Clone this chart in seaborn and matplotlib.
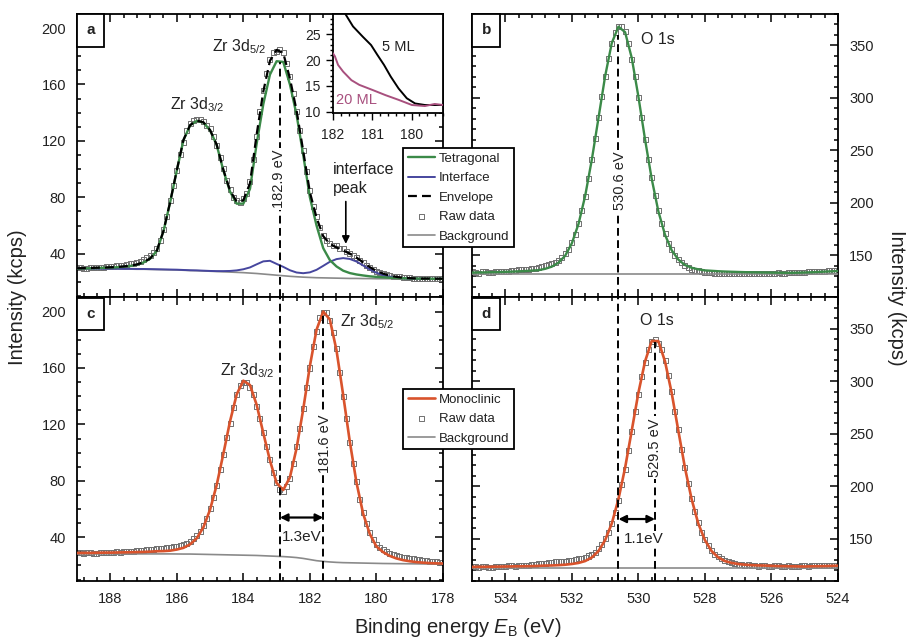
import numpy as np
import pandas as pd
import matplotlib
matplotlib.use("Agg")
import matplotlib.pyplot as plt
from matplotlib.ticker import MultipleLocator
import seaborn as sns

# ---------------- data ----------------
# binding energy grids (eV): raw data every 0.1 eV, fitted curves every 0.2 eV
zr_raw_be = np.round(np.arange(189.0, 177.95, -0.1), 1)
o_raw_be = np.round(np.arange(535.0, 523.95, -0.1), 1)
zr_be = np.round(np.arange(189.0, 177.9, -0.2), 1)
o_be = np.round(np.arange(535.0, 523.9, -0.2), 1)

# (a) tetragonal, Zr 3d
zr_t_raw = [30.2, 30.0, 29.8, 29.6, 30.3, 30.5, 30.6, 30.1, 30.4, 30.7,
            31.0, 31.1, 31.5, 31.4, 31.9, 32.3, 32.8, 33.2, 34.0, 34.8,
            35.6, 37.0, 38.5, 41.0, 44.0, 49.5, 57.0, 66.5, 77.5, 88.5,
            99.0, 110.5, 119.0, 127.5, 132.5, 134.5, 135.5, 135.0, 134.0, 131.0,
            128.5, 123.0, 116.5, 108.5, 100.5, 92.0, 85.5, 80.0, 78.0, 76.5,
            79.0, 82.5, 91.5, 106.5, 123.0, 140.5, 156.0, 167.5, 178.0, 183.0,
            183.5, 184.5, 183.0, 175.0, 165.5, 153.5, 140.5, 127.5, 113.5, 98.0,
            85.0, 73.5, 66.5, 58.5, 53.0, 49.5, 47.5, 46.0, 45.5, 44.0,
            43.5, 41.5, 40.5, 39.0, 37.0, 35.5, 33.5, 32.0, 30.0, 29.0,
            27.5, 26.8, 26.0, 25.3, 24.8, 24.2, 24.0, 23.6, 23.2, 22.9,
            23.0, 22.8, 22.6, 22.4, 22.8, 22.7, 22.4, 22.3, 22.6, 22.6,
            22.5]
zr_t_fit = [29.5, 29.6, 29.7, 29.9, 30.0, 30.2, 30.4, 30.8, 31.3, 32.2,
            33.8, 36.5, 42.0, 56.0, 76.5, 99.0, 120.5, 131.0, 134.2, 133.0,
            127.5, 117.0, 99.0, 84.0, 75.5, 75.5, 86.0, 118.0, 146.0, 167.0,
            176.5, 176.0, 160.0, 138.5, 110.0, 80.0, 60.0, 44.0, 35.5, 31.0,
            28.0, 26.3, 25.3, 24.6, 24.0, 23.6, 23.3, 23.0, 22.8, 22.6,
            22.5, 22.4, 22.3, 22.3, 22.2, 22.2]
zr_t_iface = [29.5, 29.5, 29.5, 29.5, 29.4, 29.4, 29.4, 29.3, 29.3, 29.2,
              29.2, 29.1, 29.0, 28.9, 28.8, 28.7, 28.5, 28.3, 28.2, 28.0,
              27.8, 27.7, 27.7, 27.8, 28.2, 29.0, 30.3, 32.5, 34.6, 35.0,
              32.8, 30.7, 28.3, 26.7, 26.2, 26.8, 28.6, 31.4, 34.3, 36.2,
              36.9, 36.3, 34.5, 31.7, 28.9, 26.5, 24.9, 23.8, 23.0, 22.6,
              22.4, 22.3, 22.2, 22.2, 22.2, 22.2]
zr_t_env = [29.7, 29.8, 29.9, 30.1, 30.2, 30.4, 30.6, 31.0, 31.5, 32.4,
            34.0, 36.7, 42.2, 56.2, 76.7, 99.2, 120.7, 131.2, 134.4, 133.2,
            127.7, 117.3, 99.5, 84.8, 76.9, 77.9, 90.0, 124.5, 155.0, 176.8,
            184.5, 182.3, 164.3, 141.5, 112.8, 83.6, 65.6, 52.5, 47.0, 44.5,
            42.3, 40.1, 37.3, 33.9, 30.5, 27.8, 25.9, 24.5, 23.6, 23.0,
            22.7, 22.5, 22.4, 22.4, 22.3, 22.3]
zr_t_bg = [29.3, 29.3, 29.3, 29.3, 29.2, 29.2, 29.2, 29.1, 29.1, 29.0,
           29.0, 28.9, 28.8, 28.7, 28.6, 28.5, 28.3, 28.1, 28.0, 27.8,
           27.6, 27.4, 27.2, 27.0, 26.8, 26.6, 26.3, 26.0, 25.6, 25.2,
           24.8, 24.4, 24.0, 23.7, 23.4, 23.2, 23.0, 22.9, 22.8, 22.7,
           22.6, 22.5, 22.5, 22.4, 22.4, 22.3, 22.3, 22.3, 22.2, 22.2,
           22.2, 22.2, 22.1, 22.1, 22.1, 22.1]

# (c) monoclinic, Zr 3d
zr_m_raw = [29.3, 29.0, 28.6, 29.1, 29.2, 28.7, 28.8, 29.3, 29.4, 28.9,
            29.0, 29.5, 29.6, 29.3, 29.8, 30.0, 30.0, 30.1, 30.4, 30.5,
            30.8, 31.0, 31.2, 31.6, 31.8, 32.0, 32.3, 32.6, 32.8, 33.2,
            33.6, 34.2, 35.0, 35.8, 37.2, 38.8, 41.0, 44.0, 48.0, 53.5,
            60.5, 68.0, 77.0, 88.0, 98.5, 110.5, 121.0, 132.0, 141.5, 147.5,
            149.5, 150.0, 146.0, 141.5, 133.0, 124.0, 114.5, 104.0, 95.0, 86.0,
            79.0, 74.0, 72.5, 76.0, 82.0, 92.0, 104.0, 117.0, 131.5, 146.5,
            160.0, 175.0, 186.0, 195.5, 199.0, 199.5, 194.0, 185.0, 173.5, 157.0,
            140.0, 124.0, 107.0, 92.0, 79.5, 67.0, 57.5, 49.5, 43.5, 38.5,
            35.0, 32.5, 31.0, 29.6, 28.5, 27.8, 27.0, 26.4, 25.8, 25.4,
            25.0, 24.6, 24.2, 23.9, 23.6, 23.3, 23.0, 22.8, 22.6, 22.4,
            22.3]
zr_m_fit = [28.9, 28.9, 28.9, 29.0, 29.1, 29.1, 29.2, 29.3, 29.4, 29.5,
            29.6, 29.8, 30.1, 30.2, 30.5, 31.3, 32.5, 35.0, 39.3, 47.1,
            59.6, 77.2, 99.2, 122.2, 141.3, 151.0, 147.9, 133.9, 113.9, 94.4,
            78.5, 73.5, 82.5, 103.1, 130.8, 161.4, 187.1, 200.0, 194.4, 172.6,
            141.0, 107.8, 78.9, 56.8, 42.4, 33.5, 29.5, 26.8, 25.0, 23.8,
            23.0, 22.4, 22.0, 21.7, 21.5, 21.4]
zr_m_bg = [28.2, 28.2, 28.2, 28.2, 28.2, 28.2, 28.2, 28.2, 28.2, 28.2,
           28.2, 28.2, 28.2, 28.2, 28.2, 28.15, 28.1, 28.1, 28.0, 27.9,
           27.8, 27.7, 27.6, 27.5, 27.4, 27.3, 27.2, 27.1, 26.9, 26.7,
           26.5, 26.3, 26.0, 25.6, 25.0, 24.2, 23.4, 22.9, 22.5, 22.2,
           22.0, 21.9, 21.8, 21.7, 21.6, 21.5, 21.4, 21.35, 21.3, 21.25,
           21.2, 21.15, 21.1, 21.05, 21.0, 21.0]

# (b) tetragonal, O 1s
o_t_raw = [134.5, 133.9, 133.2, 134.3, 134.6, 133.6, 134.0, 134.6, 135.0, 134.3,
           134.8, 135.2, 135.6, 135.4, 136.2, 136.5, 136.8, 137.0, 137.5, 138.0,
           138.5, 139.2, 140.0, 141.0, 142.0, 143.5, 145.5, 148.0, 151.5, 156.0,
           162.0, 170.0, 180.5, 192.5, 206.0, 223.0, 241.0, 261.0, 281.5, 301.0,
           320.0, 338.0, 352.0, 362.5, 368.5, 368.0, 363.5, 352.0, 337.0, 320.5,
           300.0, 281.0, 260.0, 241.0, 224.0, 207.0, 193.0, 180.5, 170.5, 161.5,
           155.5, 150.0, 146.0, 143.0, 140.0, 138.5, 137.0, 136.0, 135.5, 134.8,
           134.0, 133.8, 133.5, 133.0, 133.0, 133.2, 132.8, 132.6, 132.5, 132.9,
           132.8, 132.5, 132.4, 132.8, 132.9, 132.5, 132.6, 133.0, 133.2, 132.8,
           133.0, 133.3, 133.4, 133.0, 133.2, 133.6, 133.8, 133.4, 133.6, 134.0,
           134.2, 134.3, 134.5, 134.6, 134.8, 135.0, 135.2, 135.4, 135.6, 135.8,
           136.0]
o_t_fit = [133.7, 133.8, 133.9, 134.1, 134.2, 134.4, 134.6, 134.9, 135.2, 135.6,
           136.0, 137.3, 139.4, 143.2, 149.8, 161.6, 180.0, 206.7, 241.2, 280.8,
           320.7, 352.3, 367.9, 362.7, 338.2, 301.3, 260.5, 223.0, 192.1, 169.7,
           155.0, 146.1, 140.9, 138.3, 136.8, 135.8, 135.4, 135.0, 134.7, 134.5,
           134.3, 134.1, 134.0, 133.9, 133.8, 133.7, 133.6, 133.5, 133.5, 133.6,
           133.8, 134.0, 134.3, 134.6, 134.9, 135.2]
o_bg_be = [535.0, 524.0]
o_t_bg = [132.6, 132.6]

# (d) monoclinic, O 1s
o_m_raw = [123.8, 123.4, 122.9, 123.9, 123.9, 123.3, 123.2, 124.0, 124.2, 123.6,
           123.5, 124.4, 124.5, 124.0, 124.3, 124.8, 125.2, 125.0, 125.5, 125.9,
           126.3, 126.6, 127.0, 127.4, 127.8, 128.1, 128.4, 128.7, 129.0, 129.4,
           129.8, 130.4, 131.0, 131.6, 132.5, 133.8, 135.5, 137.5, 140.5, 144.5,
           150.0, 156.5, 165.0, 175.5, 187.0, 201.5, 216.5, 234.5, 252.0, 271.0,
           288.0, 305.0, 318.5, 330.0, 338.0, 340.0, 336.5, 330.5, 320.0, 305.5,
           290.5, 271.5, 254.0, 235.5, 218.5, 202.5, 188.5, 176.0, 165.5, 156.5,
           149.5, 143.5, 139.0, 135.5, 133.0, 131.0, 129.5, 128.3, 127.5, 126.8,
           126.0, 125.6, 125.0, 125.3, 124.8, 124.5, 124.0, 124.7, 124.5, 124.1,
           123.8, 124.6, 124.3, 124.0, 123.6, 124.5, 124.2, 123.9, 123.8, 124.4,
           124.5, 124.0, 124.3, 124.6, 124.8, 124.5, 124.6, 124.9, 125.0, 125.1,
           125.2]
o_m_fit = [123.4, 123.5, 123.5, 123.6, 123.7, 123.8, 123.9, 124.0, 124.1, 124.2,
           124.4, 124.7, 124.8, 125.1, 125.5, 126.2, 127.2, 129.0, 132.4, 138.5,
           148.9, 164.7, 187.9, 217.7, 253.2, 289.2, 319.1, 338.5, 338.5, 319.1,
           289.2, 253.2, 217.7, 187.9, 164.7, 148.9, 138.5, 132.4, 129.0, 127.2,
           126.2, 125.5, 125.1, 124.8, 124.7, 124.4, 124.2, 124.1, 124.0, 123.9,
           123.8, 124.0, 124.1, 124.2, 124.4, 124.6]
o_m_bg = [122.6, 122.6]

# inset: valence band edge
ml5_be = [181.75, 181.7, 181.49, 181.24, 181.03, 180.87, 180.7, 180.53,
          180.33, 180.12, 179.91, 179.66, 179.41, 179.2]
ml5_int = [30.0, 29.1, 26.5, 24.5, 22.9, 21.0, 19.05, 16.8, 14.5, 12.6,
           11.6, 11.3, 11.3, 11.3]
ml20_be = [182.0, 181.95, 181.87, 181.74, 181.53, 181.33, 180.99, 180.66,
           180.33, 179.99, 179.66, 179.41, 179.2]
ml20_int = [21.3, 20.7, 19.05, 17.75, 16.1, 15.2, 14.2, 13.2, 12.3, 11.3,
            11.1, 11.5, 11.3]

# peak positions (eV) and peak heights for the marker lines
zr_t_peak, zr_t_top = 182.9, 176.0
zr_m_peak, zr_m_top = 181.6, 200.0
o_t_peak, o_t_top = 530.6, 360.0
o_m_peak, o_m_top = 529.5, 338.0

GREEN = "#3b8a48"
BLUE = "#46469e"
RED = "#d9532c"
GRAY = "#8a8a8a"
RAWC = "#707070"
PINK = "#a8507e"
DASH = (0, (4, 2.3))

sns.set_theme(style="ticks")
plt.rcParams["font.family"] = ["Liberation Sans", "DejaVu Sans"]
plt.rcParams.update({
    "mathtext.fontset": "custom",
    "mathtext.rm": "Liberation Sans",
    "mathtext.it": "Liberation Sans:italic",
    "mathtext.bf": "Liberation Sans:bold",
    "axes.linewidth": 1.3,
    "axes.edgecolor": "black",
    "xtick.color": "black",
    "ytick.color": "black",
    "text.color": "#222222",
})

fig = plt.figure(figsize=(9.09, 6.4), dpi=100)
ax_a = fig.add_axes([0.0847, 0.5352, 0.4026, 0.4430])
ax_b = fig.add_axes([0.5193, 0.5352, 0.4026, 0.4430])
ax_c = fig.add_axes([0.0847, 0.0922, 0.4026, 0.4430])
ax_d = fig.add_axes([0.5193, 0.0922, 0.4026, 0.4430])


def line(ax, x, y, color, label=None, lw=1.6, ls="-", z=3):
    sns.lineplot(x=x, y=y, ax=ax, color=color, lw=lw, linestyle=ls, label=label,
                 legend=False, sort=False, errorbar=None, zorder=z)


def raw(ax, x, y):
    sns.scatterplot(x=x, y=y, ax=ax, marker="s", s=13, facecolor="none",
                    edgecolor=RAWC, linewidth=0.7, label="Raw data",
                    legend=False, zorder=2)


def style(ax, ymaj, ymin_, right=False):
    ax.xaxis.set_major_locator(MultipleLocator(2))
    ax.xaxis.set_minor_locator(MultipleLocator(0.4))
    ax.yaxis.set_major_locator(MultipleLocator(ymaj))
    ax.yaxis.set_minor_locator(MultipleLocator(ymin_))
    ax.tick_params(which="both", direction="in", top=True, right=True,
                   bottom=True, left=True, width=1.1, labelsize=10.5, pad=8,
                   labelcolor="#222222")
    ax.tick_params(which="major", length=6)
    ax.tick_params(which="minor", length=3)
    if right:
        ax.tick_params(labelleft=False, labelright=True)
    ax.set_xlabel("")
    ax.set_ylabel("")


def tag(ax, s):
    ax.annotate(s, xy=(0, 1), xycoords="axes fraction", xytext=(6.85, -6.85),
                textcoords="offset points", ha="left", va="top", fontsize=11,
                fontweight="bold", color="#222222", zorder=10,
                bbox=dict(boxstyle="square,pad=0.62", fc="white", ec="black", lw=1.3))


def vtext(ax, x, y, s):
    ax.text(x, y, s, rotation=90, ha="center", va="center", fontsize=10.5,
            zorder=6, bbox=dict(fc="white", ec="none", pad=1.5))


# ---- (a) tetragonal Zr 3d ----
raw(ax_a, zr_raw_be, zr_t_raw)
line(ax_a, zr_be, zr_t_bg, GRAY, "Background", lw=1.2)
line(ax_a, zr_be, zr_t_iface, BLUE, "Interface", lw=1.4)
line(ax_a, zr_be, zr_t_fit, GREEN, "Tetragonal", lw=1.7)
line(ax_a, zr_be, zr_t_env, "black", "Envelope", lw=1.6, ls=DASH, z=4)
ax_a.set_xlim(189, 178)
ax_a.set_ylim(9, 210)
ax_a.vlines(zr_t_peak, 9, zr_t_top, colors="black", linestyles=DASH, lw=1.4, zorder=5)
style(ax_a, 40, 10)
ax_a.tick_params(labelbottom=False)
vtext(ax_a, 182.93, 93, "182.9 eV")
ax_a.text(185.38, 146, "Zr 3d$_{3/2}$", ha="center", va="center", fontsize=11.5)
ax_a.text(184.11, 187, "Zr 3d$_{5/2}$", ha="center", va="center", fontsize=11.5)
ax_a.text(181.32, 93, "interface\npeak", ha="left", va="center", fontsize=11.5,
          linespacing=1.3)
ax_a.annotate("", xy=(180.92, 47), xytext=(180.92, 77),
              arrowprops=dict(arrowstyle="-|>", color="black", lw=1.2,
                              mutation_scale=11, shrinkA=0, shrinkB=0))
tag(ax_a, "a")

# ---- (c) monoclinic Zr 3d ----
raw(ax_c, zr_raw_be, zr_m_raw)
line(ax_c, zr_be, zr_m_bg, GRAY, "Background", lw=1.2)
line(ax_c, zr_be, zr_m_fit, RED, "Monoclinic", lw=1.9)
ax_c.set_xlim(189, 178)
ax_c.set_ylim(9, 210)
ax_c.vlines(zr_t_peak, 9, 210, colors="black", linestyles=DASH, lw=1.4, zorder=5)
ax_c.vlines(zr_m_peak, 9, zr_m_top, colors="black", linestyles=DASH, lw=1.4, zorder=5)
style(ax_c, 40, 10)
vtext(ax_c, 181.55, 106, "181.6 eV")
ax_c.text(183.88, 158, "Zr 3d$_{3/2}$", ha="center", va="center", fontsize=11.5)
ax_c.text(180.27, 193, "Zr 3d$_{5/2}$", ha="center", va="center", fontsize=11.5)
ax_c.annotate("", xy=(zr_m_peak, 54), xytext=(zr_t_peak, 54),
              arrowprops=dict(arrowstyle="<|-|>", color="black", lw=1.6,
                              mutation_scale=11, shrinkA=0, shrinkB=0))
ax_c.text(182.23, 40, "1.3eV", ha="center", va="center", fontsize=11)
tag(ax_c, "c")

# ---- (b) tetragonal O 1s ----
raw(ax_b, o_raw_be, o_t_raw)
line(ax_b, o_bg_be, o_t_bg, GRAY, "Background", lw=1.2)
line(ax_b, o_be, o_t_fit, GREEN, "Tetragonal", lw=1.7)
ax_b.set_xlim(535, 524)
ax_b.set_ylim(110, 380)
ax_b.vlines(o_t_peak, 110, o_t_top, colors="black", linestyles=DASH, lw=1.4, zorder=5)
style(ax_b, 50, 10, right=True)
ax_b.tick_params(labelbottom=False)
vtext(ax_b, 530.55, 221, "530.6 eV")
ax_b.text(529.4, 356, "O 1s", ha="center", va="center", fontsize=11.5)
tag(ax_b, "b")

# ---- (d) monoclinic O 1s ----
raw(ax_d, o_raw_be, o_m_raw)
line(ax_d, o_bg_be, o_m_bg, GRAY, "Background", lw=1.2)
line(ax_d, o_be, o_m_fit, RED, "Monoclinic", lw=1.9)
ax_d.set_xlim(535, 524)
ax_d.set_ylim(110, 380)
ax_d.vlines(o_t_peak, 110, 380, colors="black", linestyles=DASH, lw=1.4, zorder=5)
ax_d.vlines(o_m_peak, 110, o_m_top, colors="black", linestyles=DASH, lw=1.4, zorder=5)
style(ax_d, 50, 10, right=True)
vtext(ax_d, 529.5, 237, "529.5 eV")
ax_d.text(529.43, 358, "O 1s", ha="center", va="center", fontsize=11.5)
ax_d.annotate("", xy=(o_m_peak, 169), xytext=(o_t_peak, 169),
              arrowprops=dict(arrowstyle="<|-|>", color="black", lw=1.6,
                              mutation_scale=11, shrinkA=0, shrinkB=0))
ax_d.text(529.83, 150, "1.1eV", ha="center", va="center", fontsize=11, zorder=6,
          bbox=dict(fc="white", ec="none", pad=0.5))
tag(ax_d, "d")

# ---- inset ----
ax_in = fig.add_axes([0.3663, 0.8234, 0.1210, 0.1547])
ax_in.set_facecolor("white")
line(ax_in, ml5_be, ml5_int, "black", lw=1.4)
line(ax_in, ml20_be, ml20_int, PINK, lw=1.4)
ax_in.set_xlim(182, 179.2)
ax_in.set_ylim(9.75, 28.9)
ax_in.xaxis.set_major_locator(MultipleLocator(1))
ax_in.xaxis.set_minor_locator(MultipleLocator(0.2))
ax_in.yaxis.set_major_locator(MultipleLocator(5))
ax_in.yaxis.set_minor_locator(MultipleLocator(1))
ax_in.tick_params(which="both", direction="out", width=1.0, labelsize=10,
                  labelcolor="#222222")
ax_in.tick_params(axis="x", pad=6)
ax_in.tick_params(axis="y", pad=4)
ax_in.tick_params(which="major", length=5)
ax_in.tick_params(which="minor", length=2.5)
ax_in.set_xlabel("")
ax_in.set_ylabel("")
ax_in.text(180.75, 22.6, "5 ML", ha="left", va="center", fontsize=10.5)
ax_in.text(181.92, 12.3, "20 ML", ha="left", va="center", fontsize=10.5, color=PINK)

# ---- legends ----
def handles(ax, order):
    h, l = ax.get_legend_handles_labels()
    d = dict(zip(l, h))
    return [d[k] for k in order], order


leg_kw = dict(loc="upper left", fontsize=9.5, frameon=True, fancybox=False,
              edgecolor="black", framealpha=1, borderpad=0.35, borderaxespad=0,
              handlelength=2.1, handletextpad=0.3, labelspacing=0.55)
h, l = handles(ax_a, ["Tetragonal", "Interface", "Envelope", "Raw data", "Background"])
leg1 = fig.legend(h, l, bbox_to_anchor=(0.4433, 0.7688), **leg_kw)
leg1.get_frame().set_linewidth(1.3)
h, l = handles(ax_c, ["Monoclinic", "Raw data", "Background"])
leg2 = fig.legend(h, l, bbox_to_anchor=(0.4433, 0.3922), **leg_kw)
leg2.get_frame().set_linewidth(1.3)

# ---- shared axis labels ----
fig.text(0.504, 0.019, "Binding energy $E_\\mathrm{B}$ (eV)", ha="center",
         va="center", fontsize=14.5)
fig.text(0.019, 0.535, "Intensity (kcps)", rotation=90, ha="center",
         va="center", fontsize=14.5)
fig.text(0.986, 0.535, "Intensity (kcps)", rotation=270, ha="center",
         va="center", fontsize=14.5)

fig.savefig("out.png", dpi=100)
